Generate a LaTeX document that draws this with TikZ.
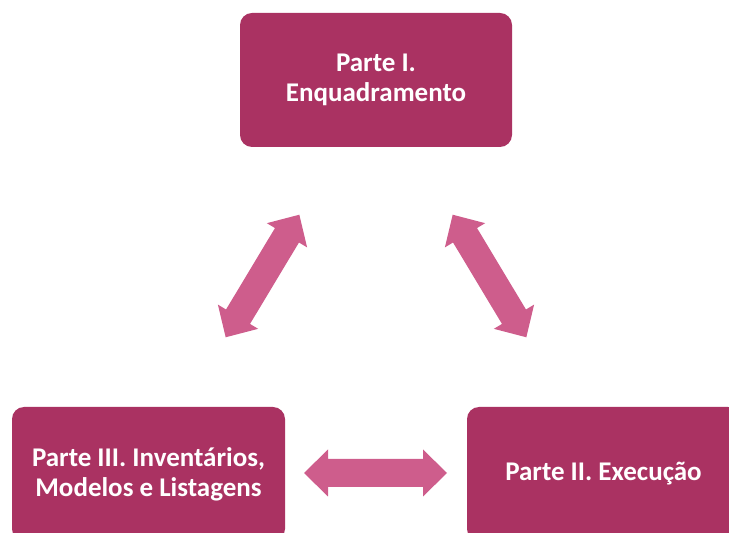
\documentclass[tikz,border=0pt]{standalone}
\usepackage{fontspec}
\setmainfont{Carlito}
\definecolor{boxfill}{RGB}{170,50,98}
\definecolor{arrowfill}{RGB}{206,93,140}
\tikzset{
  partbox/.style={fill=boxfill, rounded corners=12pt, minimum width=272pt, minimum height=134pt, align=center, text=white, font=\fontsize{27}{30}\selectfont\bfseries, inner sep=0pt},
  dblarrow/.pic={\fill[arrowfill] (-71.5,0) -- (-47.5,-23.5) -- (-47.5,-14) -- (47.5,-14) -- (47.5,-23.5) -- (71.5,0) -- (47.5,23.5) -- (47.5,14) -- (-47.5,14) -- (-47.5,23.5) -- cycle;}
}
\begin{document}
\begin{tikzpicture}[x=1pt,y=1pt]
\useasboundingbox (0,0) rectangle (729,533);
\clip (0,0) rectangle (729,533);
\node[partbox] (p1) at (376,453) {Parte I.\\Enquadramento};
\node[partbox, minimum width=273pt] (p3) at (148.5,59) {Parte III. Inventários,\\Modelos e Listagens};
\node[partbox, minimum width=273pt] (p2) at (603.5,59) {Parte II. Execução};
\pic[rotate=59] (a13) at (262.5,257) {dblarrow};
\pic[rotate=-59] (a12) at (489.5,257) {dblarrow};
\pic (a23) at (375.5,60) {dblarrow};
\end{tikzpicture}
\end{document}
